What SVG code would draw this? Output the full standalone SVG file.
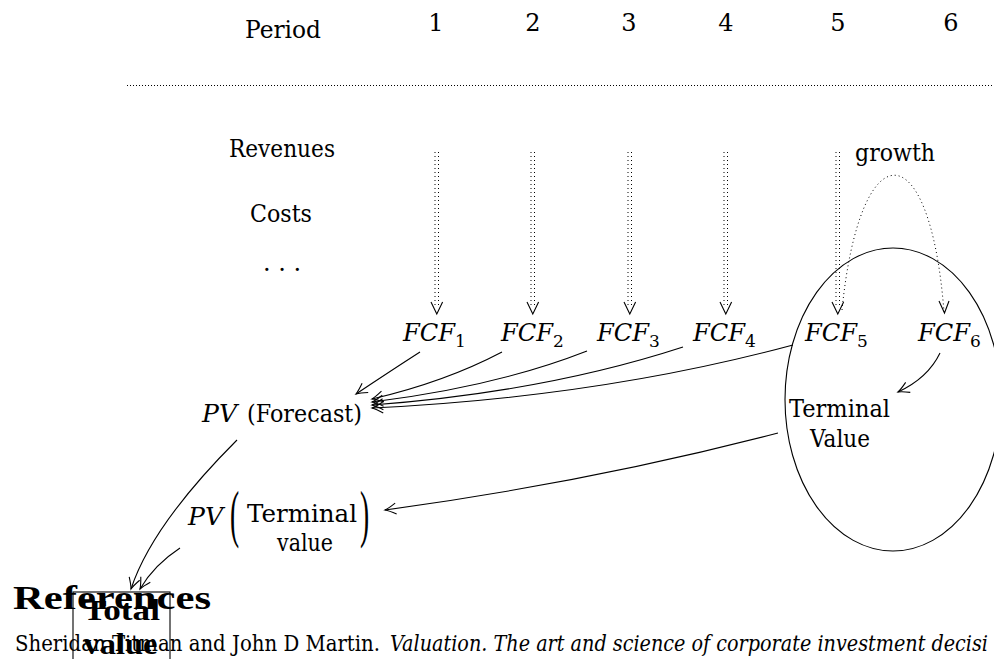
<svg xmlns="http://www.w3.org/2000/svg" width="994" height="659" viewBox="0 0 994 659" font-family="'DejaVu Serif', serif">
<defs>
<style>
text{font-family:"DejaVu Serif","Liberation Serif",serif;fill:#000}
.t{font-size:24px}
.c{text-anchor:middle}
.m{font-style:italic}
.sub{font-size:17px}
.b{font-family:"Liberation Serif","Times New Roman",serif;font-weight:bold}
.par{font-family:"Liberation Serif","Times New Roman",serif;font-size:25px}
.con{fill:none;stroke:#000;stroke-width:1.1;marker-end:url(#to)}
.dot{fill:none;stroke:#000;stroke-width:1;stroke-dasharray:1 3}
.vh{fill:none;stroke:#000;stroke-width:1.1}
</style>
<marker id="to" markerUnits="userSpaceOnUse" markerWidth="16" markerHeight="16" viewBox="-12 -8 14 16" refX="0" refY="0" orient="auto">
<path d="M-11,-5.5 Q-4,-1.3 0,0 Q-4,1.3 -11,5.5" fill="none" stroke="#000" stroke-width="1.1"/>
</marker>
</defs>
<rect width="994" height="659" fill="#fff"/>

<g id="header">
<text class="t" x="245" y="38" textLength="76" lengthAdjust="spacingAndGlyphs">Period</text>
<text class="t c" x="436" y="31">1</text>
<text class="t c" x="533" y="31">2</text>
<text class="t c" x="629" y="31">3</text>
<text class="t c" x="726" y="31">4</text>
<text class="t c" x="838" y="31">5</text>
<text class="t c" x="951" y="31">6</text>
<line x1="127" y1="85.5" x2="994" y2="85.5" stroke="#000" stroke-width="1" stroke-dasharray="1 2"/>
</g>

<g id="row-labels">
<text class="t" x="229" y="157" textLength="106" lengthAdjust="spacingAndGlyphs">Revenues</text>
<text class="t" x="250" y="222" textLength="62" lengthAdjust="spacingAndGlyphs">Costs</text>
<text class="t c" x="282" y="271">. . .</text>
</g>

<g id="growth-label"><text class="t" x="855" y="161" textLength="80" lengthAdjust="spacingAndGlyphs">growth</text></g>

<g id="fcf1"><text class="t m" x="403" y="341" textLength="52" lengthAdjust="spacingAndGlyphs">FCF</text><text class="sub" x="455" y="347">1</text></g>
<g id="fcf2"><text class="t m" x="501" y="341" textLength="52" lengthAdjust="spacingAndGlyphs">FCF</text><text class="sub" x="553" y="347">2</text></g>
<g id="fcf3"><text class="t m" x="597" y="341" textLength="52" lengthAdjust="spacingAndGlyphs">FCF</text><text class="sub" x="649" y="347">3</text></g>
<g id="fcf4"><text class="t m" x="693" y="341" textLength="52" lengthAdjust="spacingAndGlyphs">FCF</text><text class="sub" x="745" y="347">4</text></g>
<g id="fcf5"><text class="t m" x="805" y="341" textLength="52" lengthAdjust="spacingAndGlyphs">FCF</text><text class="sub" x="857" y="347">5</text></g>
<g id="fcf6"><text class="t m" x="918" y="341" textLength="52" lengthAdjust="spacingAndGlyphs">FCF</text><text class="sub" x="970" y="347">6</text></g>

<g id="terminal-ellipse">
<ellipse cx="893" cy="399.5" rx="108" ry="151.5" fill="none" stroke="#000" stroke-width="1.1"/>
<text class="t" x="789" y="417" textLength="101" lengthAdjust="spacingAndGlyphs">Terminal</text>
<text class="t" x="810" y="447" textLength="60" lengthAdjust="spacingAndGlyphs">Value</text>
</g>

<g id="pv-forecast">
<text class="t m" x="202" y="422" textLength="35" lengthAdjust="spacingAndGlyphs">PV</text>
<text class="t" x="247" y="422" textLength="115" lengthAdjust="spacingAndGlyphs">(Forecast)</text>
</g>

<g id="pv-terminal">
<text class="t m" x="188" y="525" textLength="35" lengthAdjust="spacingAndGlyphs">PV</text>
<text class="par" x="230" y="535" transform="translate(230 535) scale(1.1 2.55) translate(-230 -535)">(</text>
<text class="t" x="247" y="522" textLength="110" lengthAdjust="spacingAndGlyphs">Terminal</text>
<text class="t" x="277" y="551" textLength="56" lengthAdjust="spacingAndGlyphs">value</text>
<text class="par" x="360" y="535" transform="translate(360 535) scale(1.1 2.55) translate(-360 -535)">)</text>
</g>

<g id="references">
<text class="b" x="13" y="609" style="font-size:34px" textLength="198" lengthAdjust="spacingAndGlyphs">References</text>
<text x="15" y="651" style="font-size:22px" textLength="365" lengthAdjust="spacingAndGlyphs">Sheridan Titman and John D Martin.</text>
<text x="390" y="651" style="font-size:22px;font-style:italic" textLength="598" lengthAdjust="spacingAndGlyphs">Valuation. The art and science of corporate investment decisi</text>
</g>

<g id="total-value">
<rect x="73" y="592" width="97" height="80" fill="none" stroke="#000" stroke-width="1.1"/>
<text class="b c" x="121.5" y="620" style="font-size:30px" textLength="77" lengthAdjust="spacingAndGlyphs">Total</text>
<text class="b c" x="120.5" y="654" style="font-size:30px" textLength="74" lengthAdjust="spacingAndGlyphs">value</text>
</g>

<g id="connectors">
<g>
<line class="dot" x1="435" y1="152" x2="435" y2="306"/><line class="dot" x1="438.5" y1="152" x2="438.5" y2="306"/>
<path class="vh" d="M431,302 L436.8,314 L442.6,302"/>
<line class="dot" x1="531" y1="152" x2="531" y2="306"/><line class="dot" x1="534.5" y1="152" x2="534.5" y2="306"/>
<path class="vh" d="M527,302 L532.8,314 L538.6,302"/>
<line class="dot" x1="628" y1="152" x2="628" y2="306"/><line class="dot" x1="631.5" y1="152" x2="631.5" y2="306"/>
<path class="vh" d="M624,302 L629.8,314 L635.6,302"/>
<line class="dot" x1="724" y1="152" x2="724" y2="306"/><line class="dot" x1="727.5" y1="152" x2="727.5" y2="306"/>
<path class="vh" d="M720,302 L725.8,314 L731.6,302"/>
<line class="dot" x1="836" y1="152" x2="836" y2="306"/><line class="dot" x1="839.5" y1="152" x2="839.5" y2="306"/>
<path class="vh" d="M832,302 L837.8,314 L843.6,302"/>
</g>
<path class="dot" d="M842,310 C860,130 930,130 944,312"/>
<path class="vh" d="M939,301 L944.5,313 L949,301"/>
<path class="con" d="M420,352 Q392,370 356,394"/>
<path class="con" d="M502,352 Q445,382 372,399"/>
<path class="con" d="M587,351 Q495,387 372,402"/>
<path class="con" d="M683,347 Q545,392 372,405"/>
<path class="con" d="M793,345 Q600,397 372,408"/>
<path class="con" d="M940,353 Q928,378 898,392"/>
<path class="con" d="M778,433 Q590,482 385,510"/>
<path class="con" d="M237,440 Q152,525 131,589"/>
<path class="con" d="M180,548 Q154,565 140,589"/>
</g>
</svg>
